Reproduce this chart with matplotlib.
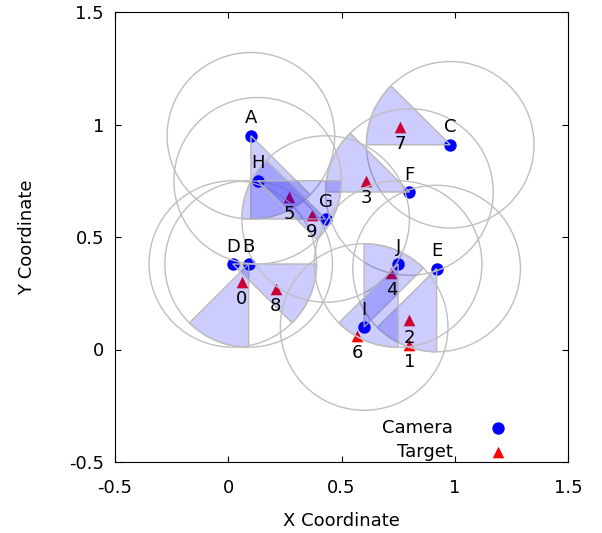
import matplotlib
matplotlib.use("Agg")
import matplotlib.pyplot as plt
from matplotlib.patches import Wedge, Circle

plt.rcParams['font.family'] = ['DejaVu Sans']
plt.rcParams['axes.unicode_minus'] = False

# cameras: position and start angle of the 45 degree field of view
cam_names = ['A', 'B', 'C', 'D', 'E', 'F', 'G', 'H', 'I', 'J']
cam_x = [0.10, 0.09, 0.98, 0.02, 0.92, 0.80, 0.43, 0.13, 0.60, 0.75]
cam_y = [0.95, 0.38, 0.91, 0.38, 0.36, 0.70, 0.58, 0.75, 0.10, 0.38]
cam_dir = [270, 225, 135, 315, 225, 135, 135, 315, 45, 225]
fov = 45
sense_r = 0.37

# targets
tgt_names = ['0', '1', '2', '3', '4', '5', '6', '7', '8', '9']
tgt_x = [0.06, 0.80, 0.80, 0.61, 0.72, 0.27, 0.57, 0.76, 0.21, 0.37]
tgt_y = [0.30, 0.02, 0.13, 0.75, 0.34, 0.68, 0.06, 0.99, 0.27, 0.60]

fig = plt.figure(figsize=(6.02, 5.33), dpi=100)
ax = fig.add_axes([115/602, 1-462/533, (568-115)/602, (462-12)/533])

ax.scatter(tgt_x, tgt_y, marker='^', s=70, color='red', zorder=2, label='Target', linewidths=0)
ax.scatter(cam_x, cam_y, marker='o', s=80, color='blue', zorder=2, label='Camera', linewidths=0)

for x, y, d in zip(cam_x, cam_y, cam_dir):
    ax.add_patch(Wedge((x, y), sense_r, d, d+fov, facecolor=(0, 0, 1, 0.2),
                       edgecolor=(0.72, 0.72, 0.72), lw=1, zorder=3))
    ax.add_patch(Circle((x, y), sense_r, fill=False, edgecolor=(0.75, 0.75, 0.75), lw=1, zorder=3))

for n, x, y in zip(cam_names, cam_x, cam_y):
    ax.annotate(n, (x, y), xytext=(0, 12.5), textcoords='offset points', ha='center', va='center',
                fontsize=13, zorder=4)
for n, x, y in zip(tgt_names, tgt_x, tgt_y):
    ax.annotate(n, (x, y), xytext=(0, -12.5), textcoords='offset points', ha='center', va='center',
                fontsize=13, zorder=4)

ax.set_xlim(-0.5, 1.5)
ax.set_ylim(-0.5, 1.5)
ax.set_xticks([-0.5, 0, 0.5, 1, 1.5])
ax.set_yticks([-0.5, 0, 0.5, 1, 1.5])
ax.set_xticklabels(['-0.5', '0', '0.5', '1', '1.5'])
ax.set_yticklabels(['-0.5', '0', '0.5', '1', '1.5'])
ax.tick_params(direction='in', top=True, right=True, length=4, labelsize=13)
ax.tick_params(axis='x', pad=12)
ax.tick_params(axis='y', pad=8)
ax.set_xlabel('X Coordinate', fontsize=13, labelpad=11)
ax.set_ylabel('Y Coordinate', fontsize=13, labelpad=24)

h, l = ax.get_legend_handles_labels()
ax.legend(h[::-1], l[::-1], loc='lower right', markerfirst=False, frameon=False, fontsize=13,
          handletextpad=1.5, borderaxespad=0.2, labelspacing=0.35, bbox_to_anchor=(0.91, -0.022))

fig.savefig('out.png', dpi=100)
